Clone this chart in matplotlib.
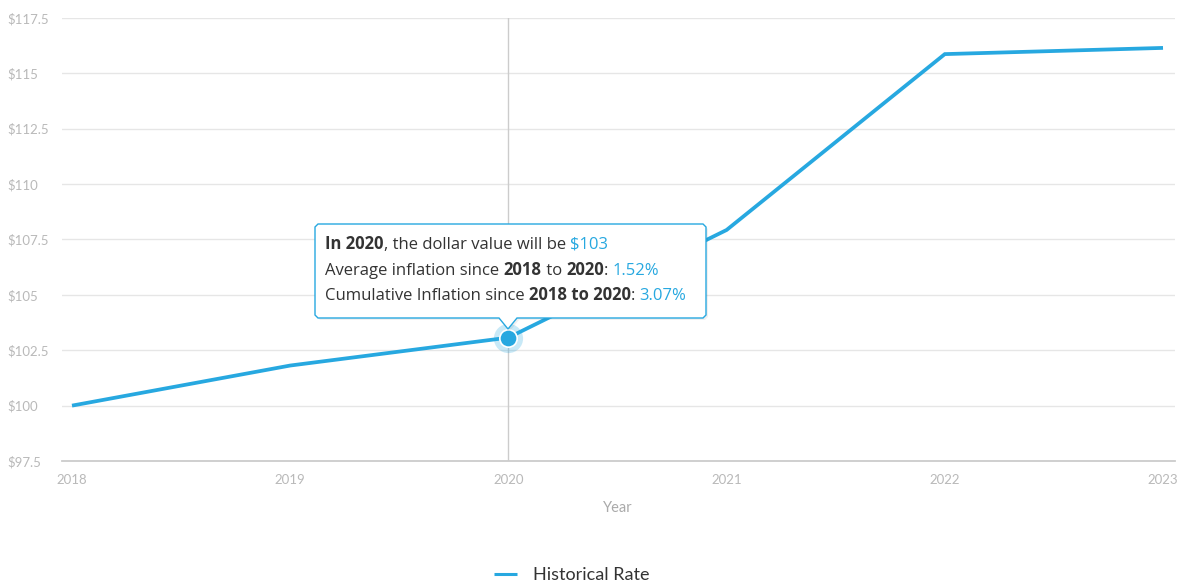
import matplotlib
matplotlib.use("Agg")
import matplotlib.pyplot as plt
from matplotlib.patches import PathPatch
from matplotlib.path import Path
from matplotlib.offsetbox import TextArea, HPacker, VPacker, AnnotationBbox

# Data
years = [2018, 2019, 2020, 2021, 2022, 2023]
values = [100.0, 101.81, 103.07, 107.93, 115.87, 116.15]
y_ticks = [97.5, 100, 102.5, 105, 107.5, 110, 112.5, 115, 117.5]
series_name = "Historical Rate"
x_title = "Year"
focus_year = 2020

LINE = "#27a8e0"
TICK = "#b9b9b9"
GRID = "#e6e6e6"
TEXT = "#333333"

W, H = 1185, 585
fig = plt.figure(figsize=(W / 100, H / 100), dpi=100)
ax = fig.add_axes([62 / W, 1 - 461 / H, (1175 - 62) / W, (461 - 18) / H])

ax.set_xlim(2018 - 10 / 218.2, 2023 + 12 / 218.2)
ax.set_ylim(97.5, 117.5)

ax.plot(years, values, color=LINE, lw=2.7, solid_joinstyle="miter",
        solid_capstyle="butt", zorder=3, label=series_name)

# Grid and axes
for s in ["top", "right", "left"]:
    ax.spines[s].set_visible(False)
ax.spines["bottom"].set_color("#cccccc")
ax.spines["bottom"].set_linewidth(1.3)
ax.set_yticks(y_ticks)
ax.yaxis.grid(True, color=GRID, lw=1)
ax.set_axisbelow(True)


def money(v):
    return f"${v:g}"


ax.set_yticklabels([money(v) for v in y_ticks])
ax.set_xticks(years)
ax.set_xticklabels([str(y) for y in years])
ax.tick_params(axis="both", length=0, colors=TICK, labelsize=9.5)
for lbl in ax.get_yticklabels():
    lbl.set_fontfamily("Lato")
    lbl.set_horizontalalignment("left")
for lbl in ax.get_xticklabels():
    lbl.set_fontfamily("Lato")
ax.tick_params(axis="y", pad=39)
ax.tick_params(axis="x", pad=9)
ax.set_xlabel(x_title, color="#aaaaaa", fontsize=10.5, family="Lato")
ax.xaxis.set_label_coords((618 - 62) / (1175 - 62), -(501 - 461) / (461 - 18))
ax.xaxis.label.set_verticalalignment("top")

# Hover crosshair and highlighted point
i = years.index(focus_year)
fv = values[i]
ax.axvline(focus_year, color="#cccccc", lw=1, zorder=1)
ax.plot([focus_year], [fv], "o", ms=21, color=LINE, alpha=0.25, mec="none", zorder=4)
ax.plot([focus_year], [fv], "o", ms=12.5, color=LINE, mec="white", mew=1.2, zorder=5)

# Tooltip frame with pointer (figure pixel coords)
x0, x1, yt, yb = 315, 706, 224, 318
px, ptip, pw = 508, 329, 9
r = 3
pts = [
    (x0 + r, yt), (x1 - r, yt), (x1, yt + r), (x1, yb - r), (x1 - r, yb),
    (px + pw, yb), (px, ptip), (px - pw, yb), (x0 + r, yb), (x0, yb - r),
    (x0, yt + r), (x0 + r, yt),
]
to_fig = lambda p: (p[0] / W, 1 - p[1] / H)
verts = [to_fig(p) for p in pts]
path = Path(verts, [Path.MOVETO] + [Path.LINETO] * (len(verts) - 2) + [Path.CLOSEPOLY])
shadow = PathPatch(Path([(vx + 2 / W, vy - 2 / H) for vx, vy in verts], path.codes),
                   transform=fig.transFigure, facecolor="black", alpha=0.06,
                   edgecolor="none", zorder=8)
fig.add_artist(shadow)
frame = PathPatch(path, transform=fig.transFigure, facecolor="white",
                  edgecolor=LINE, lw=1, zorder=9)
fig.add_artist(frame)

start = years[0]
avg = ((fv / values[0]) ** (1 / (focus_year - start)) - 1) * 100
cum = (fv / values[0] - 1) * 100

tip_font = dict(family="Open Sans", size=12)


def piece(text, bold=False, color=TEXT):
    return TextArea(text, textprops=dict(color=color,
                                         weight="bold" if bold else "normal",
                                         **tip_font))


lines = [
    [piece(f"In {focus_year}", True), piece(", the dollar value will be "),
     piece(f"${fv:.0f}", color=LINE)],
    [piece("Average inflation since "), piece(str(start), True), piece(" to "),
     piece(str(focus_year), True), piece(": "), piece(f"{avg:.2f}%", color=LINE)],
    [piece("Cumulative Inflation since "),
     piece(f"{start} to {focus_year}", True), piece(": "),
     piece(f"{cum:.2f}%", color=LINE)],
]
box = VPacker(children=[HPacker(children=l, pad=0, sep=0) for l in lines],
              pad=0, sep=5.5, align="left")
ab = AnnotationBbox(box, (325, H - 235), xycoords="figure pixels",
                    box_alignment=(0, 1), frameon=False, zorder=10)
fig.add_artist(ab)

# Legend
leg = fig.legend(loc="center", bbox_to_anchor=(572 / W, 1 - 575 / H),
                 frameon=False, handlelength=1.25, handletextpad=0.9,
                 prop=dict(family="Lato", size=13))
for t in leg.get_texts():
    t.set_color(TEXT)
for h in leg.get_lines():
    h.set_linewidth(2.2)

fig.savefig("out.png", dpi=100)
